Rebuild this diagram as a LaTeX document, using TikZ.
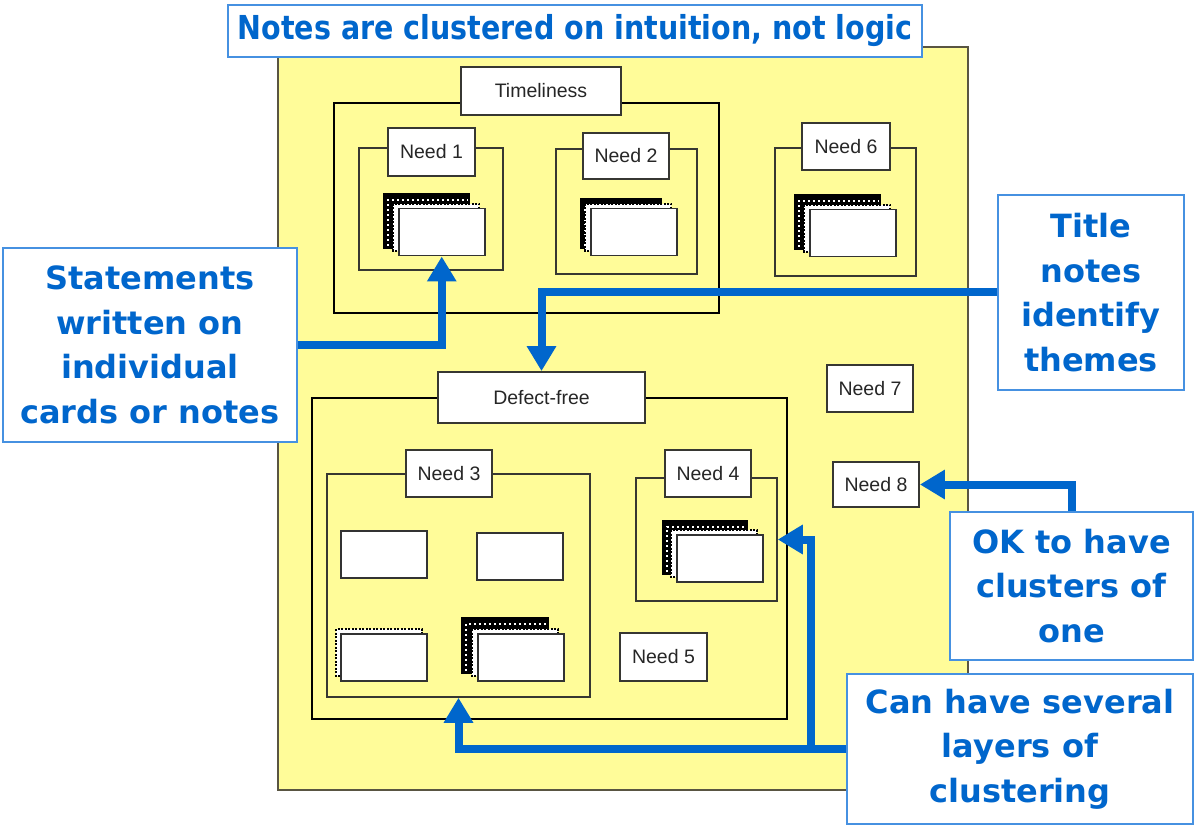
\documentclass[tikz,border=0pt]{standalone}
\usepackage{fontspec}
\setmainfont{Liberation Sans}
\newfontfamily\callfont{DejaVu Sans}
\usetikzlibrary{arrows.meta}
\definecolor{noteyellow}{RGB}{255,252,153}
\definecolor{callblue}{RGB}{0,102,204}
\definecolor{boxblue}{RGB}{70,145,225}
\definecolor{framegray}{RGB}{55,55,50}
\newcommand\stackthree[4]{% x y offset name
  \fill[black] ({#1-#3},{#2-#3}) rectangle ({#1+72},{#2+41});
  \draw[white, line width=1.6pt, dash pattern=on 1.6pt off 3.4pt]
     ({#1-#3+5},{#2+38}) -- ({#1-#3+5},{#2-#3+7}) -- ({#1+70},{#2-#3+7});
  \draw[black, fill=white, line width=1.2pt, dash pattern=on 2pt off 1.5pt]
     ({#1-5},{#2-4}) rectangle ++(86,47);
  \node[card, anchor=north west] (#4) at (#1,#2) {};
}
\newcommand\stacktwo[4]{%
  \draw[black, fill=white, line width=1.2pt, dash pattern=on 2pt off 1.5pt]
     ({#1-#3},{#2-#3}) rectangle ++(86,47);
  \node[card, anchor=north west] (#4) at (#1,#2) {};
}
\begin{document}
\begin{tikzpicture}[x=1pt,y=-1pt,
  card/.style={draw=black!80, fill=white, line width=1.5pt, minimum width=86pt, minimum height=47pt, inner sep=0pt},
  frame/.style={draw=framegray, line width=1.5pt, inner sep=0pt},
  bigframe/.style={draw=black, line width=2.6pt, inner sep=0pt},
  tag/.style={draw=framegray, line width=1.8pt, fill=white, inner sep=0pt, font=\fontsize{19.5}{21}\selectfont, text=black!85},
  callout/.style={draw=boxblue, line width=2pt, fill=white, inner sep=0pt, align=center, text=callblue, font=\callfont\bfseries\fontsize{32}{44.5}\selectfont},
  blarrow/.style={draw=callblue, line width=8pt, -{Triangle[width=28pt,length=25pt]}}
]
\useasboundingbox (0,0) rectangle (1195,826);
\fill[white] (0,0) rectangle (1195,826);
% yellow board
\draw[fill=noteyellow, draw=black!75!yellow, line width=1.5pt] (278,47) rectangle (968,790);

% Timeliness cluster
\node[bigframe, minimum width=385pt, minimum height=210pt] (ftime) at (526.5,208) {};
\node[tag, minimum width=160pt, minimum height=48pt] (ltime) at (541,91) {Timeliness};
\node[frame, minimum width=144pt, minimum height=122pt] (f1) at (431,209) {};
\node[tag, minimum width=87pt, minimum height=48pt] (l1) at (431.5,152) {Need 1};
\stackthree{398}{208}{15}{c1}
\node[frame, minimum width=141pt, minimum height=125pt] (f2) at (626.5,211.5) {};
\node[tag, minimum width=86pt, minimum height=46pt] (l2) at (626,156) {Need 2};
\stackthree{590}{208}{10}{c2}

% Need 6
\node[frame, minimum width=141pt, minimum height=128pt] (f6) at (845.5,212) {};
\node[tag, minimum width=88pt, minimum height=47pt] (l6) at (846,146.5) {Need 6};
\stackthree{809}{209}{15}{c6}

% Defect-free cluster
\node[bigframe, minimum width=475pt, minimum height=321pt] (fdf) at (549.5,558.5) {};
\node[tag, minimum width=207pt, minimum height=51pt] (ldf) at (541.5,397.5) {Defect-free};
\node[frame, minimum width=263pt, minimum height=223pt] (f3) at (458.5,585.5) {};
\node[tag, minimum width=86pt, minimum height=47pt] (l3) at (449,473.5) {Need 3};
\node[card, anchor=north west] (c3a) at (340,530) {};
\node[card, anchor=north west] (c3b) at (476,532) {};
\stacktwo{340}{633}{4}{c3c}
\stackthree{477}{633}{16}{c3d}
\node[frame, minimum width=141pt, minimum height=123pt] (f4) at (706.5,539.5) {};
\node[tag, minimum width=86pt, minimum height=47pt] (l4) at (708,473.5) {Need 4};
\stackthree{676}{534}{14}{c4}
\node[tag, minimum width=87pt, minimum height=48pt] (n5) at (663.5,657) {Need 5};

% singles
\node[tag, minimum width=86pt, minimum height=47pt] (n7) at (870,388.5) {Need 7};
\node[tag, minimum width=86pt, minimum height=45pt] (n8) at (876,484.5) {Need 8};

% title
\node[callout, minimum width=694pt, minimum height=52pt] (title) at (575,31)
  {\scalebox{0.865}[1]{\fontsize{33}{36}\selectfont Notes are clustered on intuition, not logic}};

% callouts
\node[callout, minimum width=294pt, minimum height=194pt] (stmt) at (150,345)
  {Statements\\written on\\individual\\cards or notes};
\node[callout, minimum width=186pt, minimum height=195pt] (tnotes) at (1091,292.5)
  {Title\\notes\\identify\\themes};
\node[callout, minimum width=243pt, minimum height=148pt] (okbox) at (1071.5,586)
  {OK to have\\clusters of\\one};
\node[callout, minimum width=346pt, minimum height=150pt] (canhave) at (1020,749)
  {Can have several\\layers of\\clustering};

% arrows
\draw[blarrow] (stmt.east) -| (c1.south);
\draw[blarrow] (tnotes.west) -| (ldf.north);
\draw[blarrow] (okbox.north) |- (n8.east);
\draw[blarrow] (canhave.west) -| (f3.south);
\coordinate (jn) at (811,749);
\draw[blarrow] (jn) |- (f4.east);
\end{tikzpicture}
\end{document}
